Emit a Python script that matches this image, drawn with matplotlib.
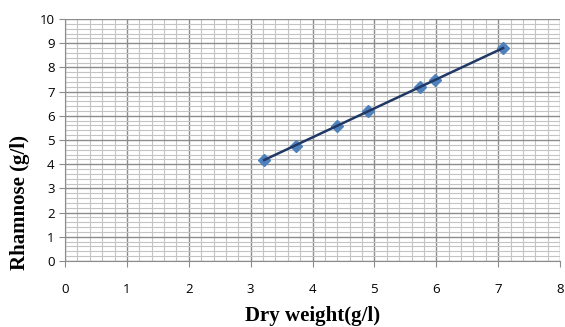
import numpy as np
import matplotlib.pyplot as plt
from matplotlib.ticker import MultipleLocator

dry_weight = [3.22, 3.73, 4.39, 4.90, 5.74, 5.98, 7.08]
rhamnose = [4.18, 4.76, 5.58, 6.21, 7.20, 7.48, 8.79]

fig = plt.figure(figsize=(5.65, 3.27), dpi=100)
ax = fig.add_axes([65 / 565, 1 - 261 / 327, 495 / 565, 242 / 327])

# linear trendline through the points
k, b = np.polyfit(dry_weight, rhamnose, 1)
xs = np.array([min(dry_weight), max(dry_weight)])
ax.plot(dry_weight, rhamnose, linestyle='none', marker='D', markersize=6,
        color='#4F81BD', zorder=3)
ax.plot(xs, k * xs + b, color='#1F3864', linewidth=1.8, zorder=4)

ax.set_xlim(0, 8)
ax.set_ylim(0, 10)
ax.xaxis.set_major_locator(MultipleLocator(1))
ax.yaxis.set_major_locator(MultipleLocator(1))
ax.xaxis.set_minor_locator(MultipleLocator(0.2))
ax.yaxis.set_minor_locator(MultipleLocator(0.2))
ax.grid(which='major', color='#8C8C8C', linewidth=1.0)
ax.grid(which='minor', color='#C4C4C4', linewidth=0.8)
ax.set_axisbelow(True)

for s in ['top', 'right']:
    ax.spines[s].set_visible(False)
ax.spines['left'].set_color('#8C8C8C')
ax.spines['bottom'].set_color('#8C8C8C')
ax.tick_params(which='major', length=4, color='#8C8C8C', labelsize=9.5)
ax.tick_params(which='minor', length=0)
ax.tick_params(axis='x', pad=12)
for lab in ax.get_xticklabels() + ax.get_yticklabels():
    lab.set_fontfamily('Open Sans')

# axis titles placed like the original (y title sits low)
fig.text(313 / 565, 1 - 316 / 327, 'Dry weight(g/l)', ha='center', va='center',
         fontfamily='Liberation Serif', fontweight='bold', fontsize=15)
fig.text(20 / 565, 1 - 203 / 327, 'Rhamnose (g/l)', ha='center', va='center',
         rotation=90, fontfamily='Liberation Serif', fontweight='bold', fontsize=15)

plt.savefig('out.png', format='png')
plt.close()
